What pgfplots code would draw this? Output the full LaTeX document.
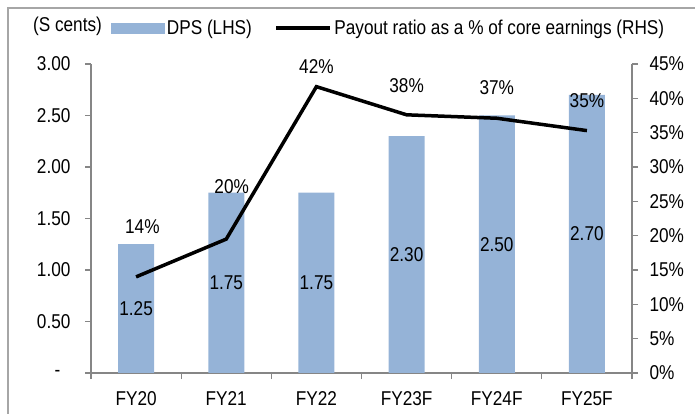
\documentclass[border=0pt]{standalone}
\usepackage{fontspec}
\setmainfont{Liberation Sans}[FakeStretch=0.86]
\usepackage{pgfplots}
\pgfplotsset{compat=1.18}
\definecolor{barblue}{HTML}{95B3D7}
\definecolor{axgray}{HTML}{868686}
\definecolor{framegray}{HTML}{A6A6A6}
\begin{document}
\begin{tikzpicture}[x=1pt,y=1pt,font=\fontsize{20}{24}\selectfont]
\useasboundingbox (0,0) rectangle (695,414);
\draw[framegray, line width=1.5pt] (8,-20) -- (8,406) -- (720,406);
\node at (67.5,388) {(S cents)};
\begin{axis}[at={(91pt,41pt)}, anchor=south west, scale only axis,
  width=541pt, height=309pt,
  xmin=-0.5, xmax=5.5, ymin=0, ymax=3,
  axis x line*=bottom, axis y line*=left,
  axis line style={axgray, line width=1.3pt},
  tick align=outside, major tick length=6pt,
  tick style={axgray, line width=1.3pt},
  xtick={-0.5,0.5,...,5.5}, x tick label as interval,
  xticklabels={FY20,FY21,FY22,FY23F,FY24F,FY25F},
  xticklabel style={yshift=-9pt},
  ytick={0,0.5,...,3}, yticklabels={{-\rule{10pt}{0pt}},0.50,1.00,1.50,2.00,2.50,3.00},
  yticklabel style={xshift=-11pt},
  minor tick num=0,
  clip=false]
\addplot[ybar, bar width=36pt, fill=barblue, draw=none, forget plot]
  coordinates {(0,1.25)(1,1.75)(2,1.75)(3,2.30)(4,2.50)(5,2.70)};
\addplot[only marks, mark=none, nodes near coords, point meta=explicit symbolic,
  nodes near coords style={anchor=center, text=black}, forget plot]
  coordinates {(0,0.625)[1.25] (1,0.875)[1.75] (2,0.875)[1.75] (3,1.15)[2.30] (4,1.25)[2.50] (5,1.35)[2.70]};
\end{axis}
\begin{axis}[at={(91pt,41pt)}, anchor=south west, scale only axis,
  width=541pt, height=309pt,
  xmin=-0.5, xmax=5.5, ymin=0, ymax=45,
  axis x line=none, axis y line*=right,
  axis line style={axgray, line width=1.3pt},
  tick align=outside, major tick length=6pt,
  tick style={axgray, line width=1.3pt},
  ytick={0,5,...,45},
  yticklabels={0\%,5\%,10\%,15\%,20\%,25\%,30\%,35\%,40\%,45\%},
  yticklabel style={xshift=8pt},
  clip=false,
  legend columns=2,
  legend style={draw=none, fill=none, at={(0.031,1.1165)}, anchor=west,
    nodes={inner sep=2.5pt},
    /tikz/every even column/.append style={column sep=20pt}}]
\addlegendimage{legend image code/.code={\fill[barblue] (0pt,-5pt) rectangle (53pt,5pt);}}
\addlegendentry{DPS (LHS)}
\addlegendimage{legend image code/.code={\draw[black,line width=3.5pt] (0pt,0pt) -- (54pt,0pt);}}
\addlegendentry{Payout ratio as a \% of core earnings (RHS)}
\addplot[black, line width=3.5pt, forget plot]
  coordinates {(0,14.0)(1,19.5)(2,41.7)(3,37.6)(4,37.1)(5,35.3)};
\addplot[only marks, mark=none, nodes near coords, point meta=explicit symbolic,
  nodes near coords style={anchor=center, text=black}, forget plot]
  coordinates {(0.07,21.3)[14\%] (1.06,27.1)[20\%] (2,44.6)[42\%] (3,41.8)[38\%] (4,41.6)[37\%] (5,39.6)[35\%]};
\end{axis}
\end{tikzpicture}
\end{document}
